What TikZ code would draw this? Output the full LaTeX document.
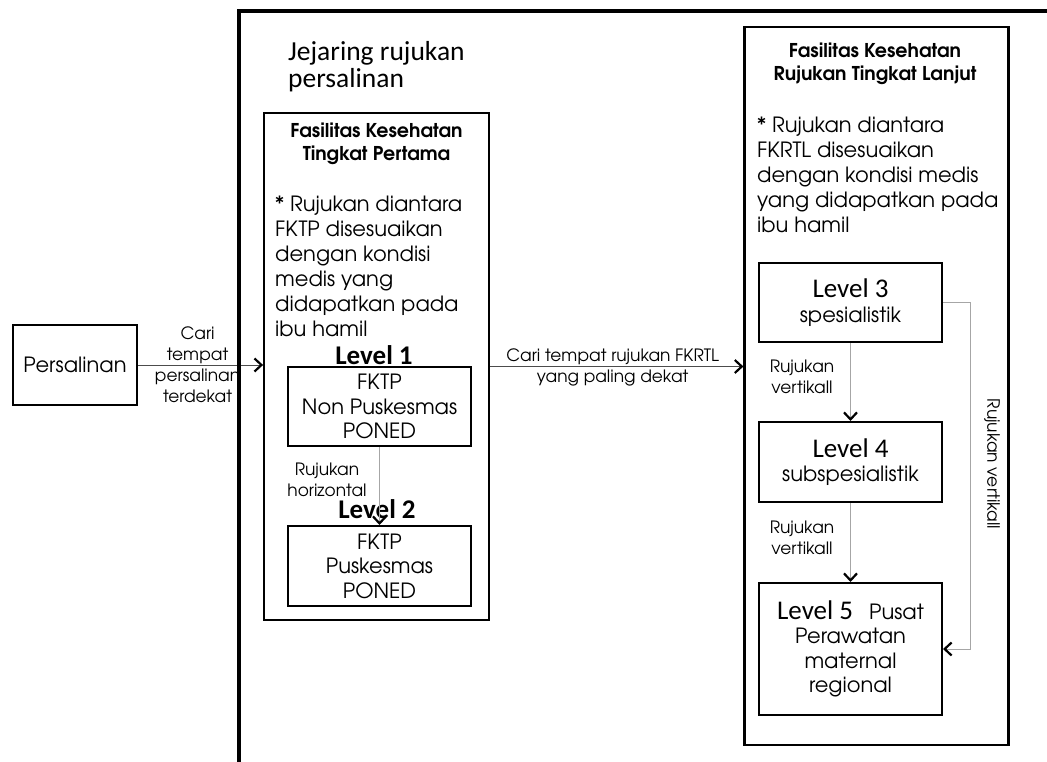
\documentclass[tikz,border=0pt]{standalone}
\usepackage{fontspec}
\setmainfont{texgyreadventor}[Extension=.otf, UprightFont=*-regular, BoldFont=*-bold]
\newfontfamily\calib{Carlito}
\usetikzlibrary{arrows.meta,positioning}

\begin{document}
\begin{tikzpicture}[x=1pt, y=-1pt,
        box/.style={rectangle, draw, line width=2pt, inner sep=0pt, align=center, font=\fontsize{21}{24.5}\selectfont},
        group/.style={rectangle, draw, line width=1.8pt, inner sep=0pt},
        heading/.style={inner sep=0pt, anchor=north, align=center, font=\bfseries\fontsize{19}{23}\selectfont},
        note/.style={inner sep=0pt, anchor=north west, align=left, font=\fontsize{21}{25}\selectfont},
        small/.style={inner sep=0pt, align=center, font=\fontsize{17}{21}\selectfont},
        level/.style={inner sep=0pt, anchor=base, font=\calib\bfseries\fontsize{27}{27}\selectfont},
        arrow/.style={draw=black!70, line width=0.8pt, -{Straight Barb[length=7pt, width=13pt, line width=2.2pt, color=black]}},
        varrow/.style={arrow, draw=black!35}
    ]
        \useasboundingbox (0,0) rectangle (1047,762);
        \clip (0,0) rectangle (1047,762);

        % start
        \node[box, minimum width=124pt, minimum height=80pt] (persalinan) at (75,365) {Persalinan};

        % network title
        \node[inner sep=0pt, anchor=north west, align=left, font=\calib\fontsize{27.5}{27}\selectfont] (jejaring) at (288,41) {Jejaring rujukan\\persalinan};

        % first level facilities
        \node[group, minimum width=225pt, minimum height=507pt] (fktp) at (376.5,366.5) {};
        \node[heading] (fktptitle) at (376.5,123) {Fasilitas Kesehatan\\Tingkat Pertama};
        \node[note] (fktpnote) at (275,195.5) {* Rujukan diantara\\FKTP disesuaikan\\dengan kondisi\\medis yang\\didapatkan pada\\ibu hamil};
        \node[level] (lv1) at (374,364) {Level 1};
        \node[box, minimum width=183pt, minimum height=79pt] (fktp1) at (379.5,406.5) {FKTP\\Non Puskesmas\\PONED};
        \node[level] (lv2) at (377,518) {Level 2};
        \node[box, minimum width=183pt, minimum height=80pt] (fktp2) at (379.5,566) {FKTP\\Puskesmas\\PONED};
        \node[small, anchor=north] (horiz) at (327,463) {Rujukan\\horizontal};

        % advanced facilities
        \node[group, line width=2.2pt, minimum width=264pt, minimum height=718pt] (fkrtl) at (876.5,386) {};
        \node[heading] (fkrtltitle) at (875,43) {Fasilitas Kesehatan\\Rujukan Tingkat Lanjut};
        \node[note] (fkrtlnote) at (757,116.5) {* Rujukan diantara\\FKRTL disesuaikan\\dengan kondisi medis\\yang didapatkan pada\\ibu hamil};
        \node[box, minimum width=183pt, minimum height=79pt] (l3) at (850.5,302.5) {{\calib\fontsize{27}{24}\selectfont Level 3}\\spesialistik};
        \node[box, minimum width=183pt, minimum height=80pt] (l4) at (850.5,462) {{\calib\fontsize{27}{24}\selectfont Level 4}\\subspesialistik};
        \node[box, minimum width=183pt, minimum height=132pt] (l5) at (850.5,649) {{\calib\fontsize{27}{25}\selectfont Level 5}\hspace{16pt}Pusat\\Perawatan\\maternal\\regional};
        \node[small, anchor=north] (vert1) at (802,359.5) {Rujukan\\vertikall};
        \node[small, anchor=north] (vert2) at (802,520.5) {Rujukan\\vertikall};
        \node[small, rotate=-90] (vert3) at (992,464) {Rujukan vertikall};

        % connectors
        \draw[arrow] (persalinan.east) -- (persalinan.east -| fktp.west) node[midway, small, xshift=-3pt] {Cari\\tempat\\persalinan\\terdekat};
        \draw[arrow] (fktp.east) -- (fktp.east -| fkrtl.west) node[midway, small, xshift=-4pt, yshift=-1pt] {Cari tempat rujukan FKRTL\\yang paling dekat};
        \draw[varrow] (fktp1) -- (fktp2);
        \draw[varrow] (l3) -- (l4);
        \draw[varrow] (l4) -- (l5);
        \draw[varrow] (l3.east) -- ++(27,0) |- (l5.east);

        % network frame
        \draw[line width=3.5pt] (239,11) rectangle (1100,800);
    \end{tikzpicture}
\end{document}
